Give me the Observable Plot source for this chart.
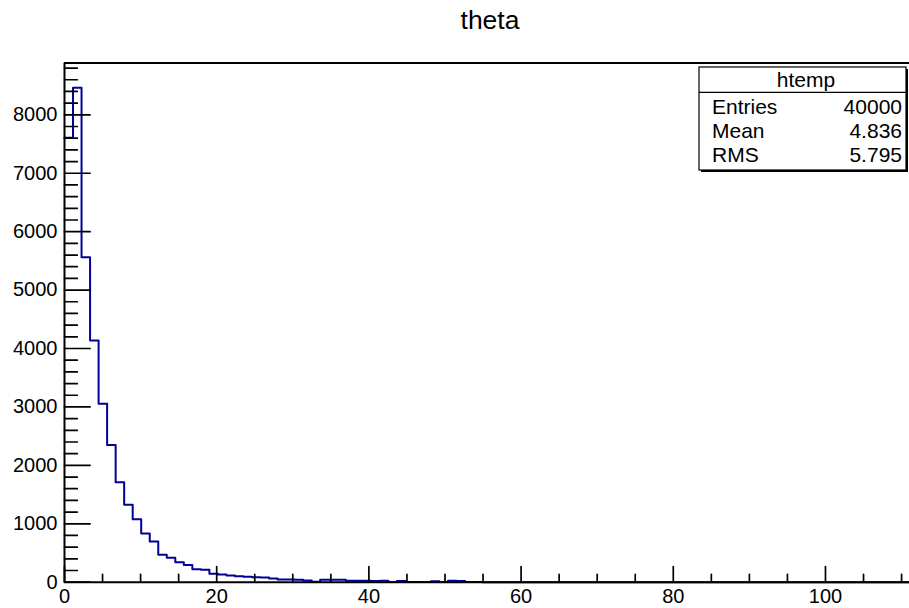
<!DOCTYPE html>
<html><head><meta charset="utf-8">
<script src="https://cdn.jsdelivr.net/npm/d3@7"></script>
<script src="https://cdn.jsdelivr.net/npm/@observablehq/plot@0.6"></script>
<style>
html,body{margin:0;padding:0;background:#fff;}
#wrap{width:909px;height:608px;overflow:hidden;font-family:"Liberation Sans",Arial,sans-serif;background:#fff;}
#title{height:40px;line-height:40px;font-size:26.5px;text-align:center;padding-left:71px;box-sizing:border-box;width:909px;color:#000;}
#chart svg{display:block;}
</style></head>
<body><div id="wrap"><div id="title">theta</div><div id="chart"></div></div>
<script>
// ---- data ----
const histName = "htemp";
const xMin = 0, xMax = 112, nBins = 100;
const counts = [
  7606, 8464, 5562, 4137, 3053, 2350, 1711, 1324, 1078, 833,
  697, 469, 417, 342, 295, 220, 215, 145, 130, 115,
  100, 95, 85, 80, 65, 48, 46, 44, 29, 8,
  40, 41, 40, 24, 23, 24, 22, 24, 5, 22,
  5, 4, 5, 17, 4, 25, 22, 3, 2, 0,
  1, 0, 0, 0, 0, 0, 0, 0, 0, 0,
  0, 0, 0, 0, 0, 0, 0, 0, 0, 0,
  0, 0, 0, 0, 0, 0, 0, 0, 0, 0,
  0, 0, 0, 0, 0, 0, 0, 0, 0, 0,
  0, 0, 0, 0, 0, 0, 0, 0, 0, 0
];
const statLabels = ["Entries", "Mean", "RMS"];
const statValues = ["40000", "4.836", "5.795"];
const xMajorTicks = [0, 20, 40, 60, 80, 100];
const xMinorTicks = [5, 10, 15, 25, 30, 35, 45, 50, 55, 65, 70, 75, 85, 90, 95, 105, 110];
const yMajorTicks = [0, 1000, 2000, 3000, 4000, 5000, 6000, 7000, 8000];
const yMinorTicks = d3.range(200, 8801, 200).filter(v => v % 1000 !== 0);
const yTop = 8887;

// ---- build step points ----
const binW = (xMax - xMin) / nBins;
const steps = counts.map((c, i) => ({x: xMin + i * binW, y: c}));
steps.push({x: xMax, y: counts[counts.length - 1]});

const tickShape = {draw(context, l) { context.moveTo(0, 0); context.lineTo(0, -l); }};

function statsBox() {
  const g = d3.create("svg:g")
    .attr("font-family", "'Liberation Sans', Arial, sans-serif")
    .attr("font-size", 21).attr("fill", "#000").attr("text-anchor", "start");
  const x0 = 699, x1 = 906, y0 = 27, y1 = 130;
  g.append("rect").attr("x", x0 + 2).attr("y", y0 + 2).attr("width", x1 - x0).attr("height", y1 - y0).attr("fill", "#000");
  g.append("rect").attr("x", x0).attr("y", y0).attr("width", x1 - x0).attr("height", y1 - y0)
    .attr("fill", "#fff").attr("stroke", "#000").attr("stroke-width", 1.2);
  g.append("line").attr("x1", x0).attr("x2", x1).attr("y1", 52.3).attr("y2", 52.3)
    .attr("stroke", "#000").attr("stroke-width", 1.2);
  g.append("text").attr("x", 806).attr("y", 46.7).attr("text-anchor", "middle").text(histName);
  const base = [74, 98.2, 121.7];
  statLabels.forEach((lab, i) => {
    g.append("text").attr("x", 712).attr("y", base[i]).attr("text-anchor", "start").text(lab);
    g.append("text").attr("x", 902).attr("y", base[i]).attr("text-anchor", "end").text(statValues[i]);
  });
  return g.node();
}

const chart = Plot.plot({
  width: 909,
  height: 568,
  marginLeft: 64,
  marginRight: 0,
  marginTop: 22.5,
  marginBottom: 26.3,
  style: {fontFamily: "'Liberation Sans', Arial, sans-serif", background: "#fff", color: "#000"},
  x: {domain: [xMin, xMax], range: [64, 916.3]},
  y: {domain: [0, yTop], range: [541.7, 22.5]},
  marks: [
    Plot.line(steps, {x: "x", y: "y", curve: "step-after", stroke: "#000099", strokeWidth: 2}),
    Plot.ruleY([0, yTop], {stroke: "#000", strokeWidth: 2}),
    Plot.ruleX([xMin], {stroke: "#000", strokeWidth: 2}),
    Plot.vector(yMajorTicks, {x: xMin, y: d => d, length: 25.6, rotate: 90, anchor: "start", shape: tickShape, stroke: "#000", strokeWidth: 1.7}),
    Plot.vector(yMinorTicks, {x: xMin, y: d => d, length: 12.8, rotate: 90, anchor: "start", shape: tickShape, stroke: "#000", strokeWidth: 1.7}),
    Plot.vector(xMajorTicks, {x: d => d, y: 0, length: 15.6, rotate: 0, anchor: "start", shape: tickShape, stroke: "#000", strokeWidth: 1.7}),
    Plot.vector(xMinorTicks, {x: d => d, y: 0, length: 7.8, rotate: 0, anchor: "start", shape: tickShape, stroke: "#000", strokeWidth: 1.7}),
    Plot.axisY({ticks: yMajorTicks, tickSize: 0, tickPadding: 7, fontSize: 20, label: null, tickFormat: d => String(d)}),
    Plot.axisX({ticks: xMajorTicks, tickSize: 0, tickPadding: 6.3, fontSize: 20, label: null, tickFormat: d => String(d)}),
    statsBox
  ]
});
document.getElementById("chart").appendChild(chart);
</script>
</body></html>
